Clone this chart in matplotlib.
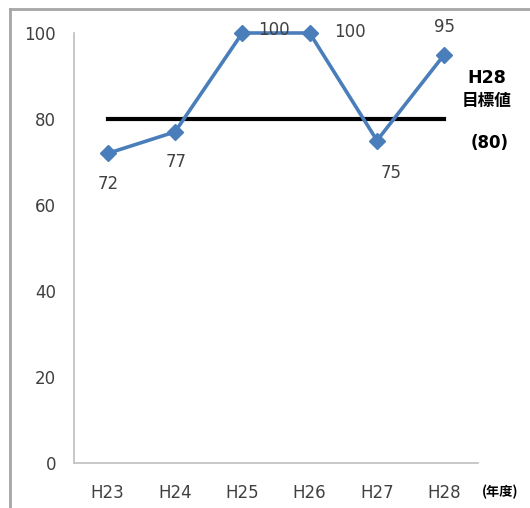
import matplotlib
matplotlib.use("Agg")
import matplotlib.pyplot as plt
from matplotlib.lines import Line2D

plt.rcParams['font.family'] = ['DejaVu Sans', 'Noto Sans CJK JP']

# === データ ===
years = ['H23', 'H24', 'H25', 'H26', 'H27', 'H28']
values = [72, 77, 100, 100, 75, 95]
target = 80
yticks = [0, 20, 40, 60, 80, 100]

# ラベル位置 (px オフセット)
label_offsets = [(1, -31), (1, -30), (32, 3), (40, 1), (14, -33), (0, 27)]

fig = plt.figure(figsize=(5.30, 5.08), dpi=100)
ax = fig.add_axes([74 / 530, 1 - 463 / 508, 404 / 530, 430 / 508])

x = list(range(len(years)))
ax.plot(x, values, color='#4a7ebb', lw=2.6, marker='D', ms=8.5,
        markerfacecolor='#4a7ebb', markeredgecolor='#4a7ebb', zorder=3,
        clip_on=False)
ax.plot([0, 5], [target, target], color='black', lw=3, zorder=2)

for xi, v, (dx, dy) in zip(x, values, label_offsets):
    ax.annotate(str(v), (xi, v), xytext=(dx, dy), textcoords='offset pixels',
                ha='center', va='center', fontsize=12, color='#404040')

ax.set_xlim(-0.5, 5.5)
ax.set_ylim(0, 100)
ax.set_xticks(x)
ax.set_xticklabels(years)
ax.set_yticks(yticks)
ax.tick_params(length=0, labelsize=12, labelcolor='#404040')
ax.tick_params(axis='x', pad=15)
ax.tick_params(axis='y', pad=13)
for s in ['top', 'right']:
    ax.spines[s].set_visible(False)
for s in ['left', 'bottom']:
    ax.spines[s].set_color('#bfbfbf')
    ax.spines[s].set_linewidth(1.2)

cjk = ['Noto Sans CJK JP', 'DejaVu Sans']
fig.text(487 / 530, 1 - 78 / 508, 'H28', ha='center', va='center',
         fontsize=12.5, fontweight='bold', family=['DejaVu Sans'])
fig.text(487 / 530, 1 - 101 / 508, '目標値', ha='center', va='center',
         fontsize=12, fontweight='bold', family=cjk)
fig.text(490 / 530, 1 - 143 / 508, '(80)', ha='center', va='center',
         fontsize=12, fontweight='bold', family=['DejaVu Sans'])
fig.text(500 / 530, 1 - 492 / 508, '(年度)', ha='center', va='center',
         fontsize=9.5, fontweight='bold', family=cjk)

# 外枠 (上・左のみ見える)
fig.add_artist(Line2D([10 / 530, 1], [1 - 9 / 508] * 2, color='#a6a6a6', lw=2,
                      transform=fig.transFigure))
fig.add_artist(Line2D([10 / 530] * 2, [0, 1 - 9 / 508], color='#a6a6a6', lw=2,
                      transform=fig.transFigure))

fig.savefig('out.png', dpi=100)
